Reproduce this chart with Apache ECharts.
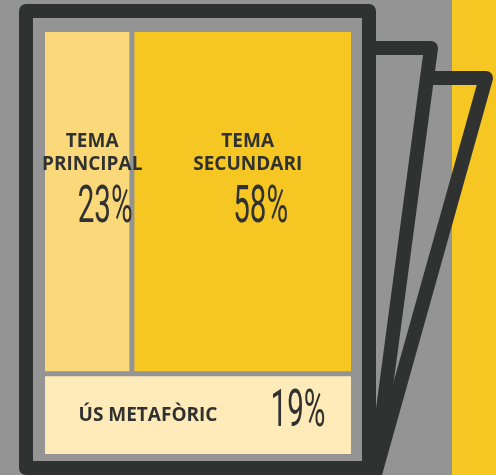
<!DOCTYPE html>
<html><head><meta charset="utf-8">
<script src="https://cdn.jsdelivr.net/npm/echarts@6/dist/echarts.min.js"></script>
<style>html,body{margin:0;padding:0;background:#939493;}#c{width:496px;height:475px;}</style>
</head><body><div id="c"></div>
<script>
// ---- data ----
const categories = ['TEMA\nPRINCIPAL', 'TEMA\nSECUNDARI', 'ÚS METAFÒRIC'];
const values = [23, 58, 19];
const cellColors = ['#FBD97B', '#F6C622', '#FEEBB9'];

const DARK = '#303231';
const GRAY = '#939493';
const YELLOW = '#F6C622';

// slice-and-dice layout derived from values: top row = first two, bottom row = third
const topTotal = values[0] + values[1];
const total = topTotal + values[2];
const bottomH = values[2] / total * 100;
const splitX = values[0] / topTotal * 100;
const cells = [
  [0, bottomH, splitX, 100],
  [splitX, bottomH, 100, 100],
  [0, 0, 100, bottomH]
];

function renderItem(params, api) {
  const i = params.dataIndex;
  const x0 = api.value(0), y0 = api.value(1), x1 = api.value(2), y1 = api.value(3);
  const a = api.coord([x0, y1]), b = api.coord([x1, y0]);
  const g = 2.5;
  const L = a[0] + (x0 > 0 ? g : 0), R = b[0] - (x1 < 100 ? g : 0);
  const T = a[1] + (y1 < 100 ? g : 0), B = b[1] - (y0 > 0 ? g : 0);
  const w = R - L, h = B - T, cx = (L + R) / 2, cy = (T + B) / 2;
  const children = [{ type: 'rect', z2: 1, shape: { x: L, y: T, width: w, height: h }, style: { fill: cellColors[i] } }];
  const nameStyle = { fontFamily: '"Open Sans"', fontWeight: 'bold', fontSize: 19, lineHeight: 23, fill: DARK, align: 'center', verticalAlign: 'middle' };
  const pctStyle = { fontFamily: 'Roboto', fontWeight: 400, fontSize: 51, fill: DARK, align: 'center', verticalAlign: 'middle' };
  let nx, ny, px, py;
  if (h > w) { nx = cx + 5; ny = cy - 49; px = cx + 18; py = cy + 8; }
  else { nx = cx - 50; ny = cy + 0.5; px = cx + 100; py = cy - 2; }
  children.push({ type: 'text', z2: 20, x: nx, y: ny, style: Object.assign({ text: categories[i] }, nameStyle) });
  children.push({ type: 'text', z2: 20, x: px, y: py, scaleX: 0.58, style: Object.assign({ text: values[i] + '%' }, pctStyle) });
  return { type: 'group', children };
}

const chart = echarts.init(document.getElementById('c'), null, { renderer: 'canvas' });
chart.setOption({
  backgroundColor: GRAY,
  animation: false,
  grid: { left: 45, top: 32, right: 145, bottom: 21 },
  xAxis: { type: 'value', min: 0, max: 100, show: false },
  yAxis: { type: 'value', min: 0, max: 100, show: false },
  graphic: [
    { type: 'rect', z: 0, shape: { x: 452, y: 0, width: 44, height: 475 }, style: { fill: YELLOW } },
    { type: 'polyline', z: 1, shape: { points: [[428, 78], [486, 78], [370, 492]] }, style: { fill: 'none', stroke: DARK, lineWidth: 14, lineJoin: 'round' } },
    { type: 'polyline', z: 2, shape: { points: [[370, 48], [431, 48], [372, 492]] }, style: { fill: 'none', stroke: DARK, lineWidth: 14, lineJoin: 'round' } },
    { type: 'rect', z: 3, shape: { x: 26, y: 11, width: 343, height: 457 }, style: { fill: 'none', stroke: DARK, lineWidth: 14, lineJoin: 'round' } }
  ],
  series: [{
    type: 'custom',
    z: 10,
    silent: true,
    clip: false,
    renderItem: renderItem,
    encode: { x: [0, 2], y: [1, 3] },
    data: cells
  }]
});
</script>
</body></html>
